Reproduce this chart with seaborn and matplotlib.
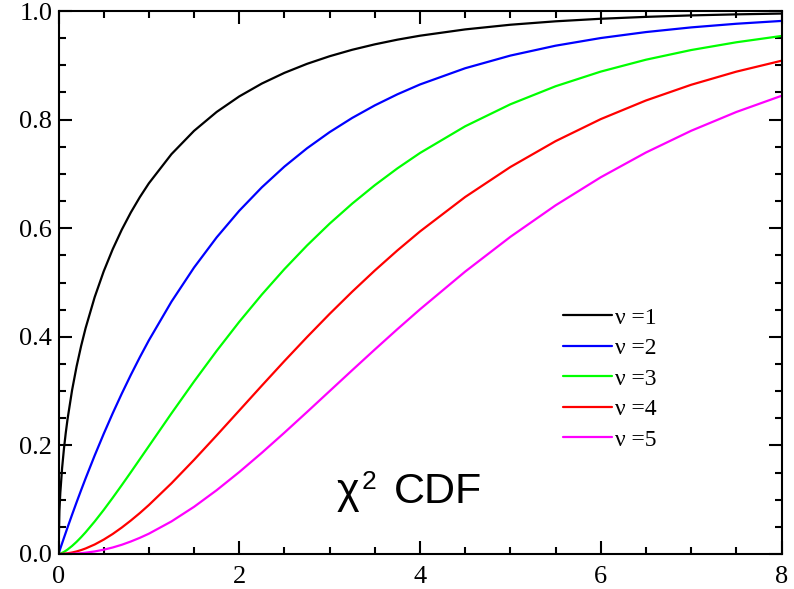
import numpy as np
import pandas as pd
import matplotlib
matplotlib.use("Agg")
import matplotlib.pyplot as plt
import seaborn as sns
from matplotlib.ticker import MultipleLocator

# ---- data (chi-square CDF curves) ----
x_vals = [0, 0.01, 0.02, 0.04, 0.06, 0.08, 0.1, 0.15, 0.2, 0.25, 0.3, 0.4, 0.5,
          0.6, 0.7, 0.8, 0.9, 1.0, 1.25, 1.5, 1.75, 2.0, 2.25, 2.5, 2.75, 3.0,
          3.25, 3.5, 3.75, 4.0, 4.5, 5.0, 5.5, 6.0, 6.5, 7.0, 7.5, 8.0]
cdf_nu1 = [0.0, 0.0797, 0.1125, 0.1585, 0.1935, 0.2227, 0.2482, 0.3015, 0.3453,
           0.3829, 0.4161, 0.4729, 0.5205, 0.5614, 0.5972, 0.6289, 0.6572, 0.6827,
           0.7364, 0.7793, 0.8141, 0.8427, 0.8664, 0.8861, 0.9027, 0.9167, 0.9286,
           0.9386, 0.9472, 0.9545, 0.9661, 0.9747, 0.9810, 0.9857, 0.9892, 0.9919,
           0.9938, 0.9953]
cdf_nu2 = [0.0, 0.0050, 0.0100, 0.0198, 0.0296, 0.0392, 0.0488, 0.0723, 0.0952,
           0.1175, 0.1393, 0.1813, 0.2212, 0.2592, 0.2953, 0.3297, 0.3624, 0.3935,
           0.4647, 0.5276, 0.5831, 0.6321, 0.6753, 0.7135, 0.7472, 0.7769, 0.8031,
           0.8262, 0.8466, 0.8647, 0.8946, 0.9179, 0.9361, 0.9502, 0.9612, 0.9698,
           0.9765, 0.9817]
cdf_nu3 = [0.0, 0.0003, 0.0008, 0.0021, 0.0038, 0.0059, 0.0082, 0.0148, 0.0224,
           0.0309, 0.0400, 0.0598, 0.0811, 0.1036, 0.1268, 0.1505, 0.1746, 0.1987,
           0.2590, 0.3177, 0.3741, 0.4276, 0.4778, 0.5247, 0.5682, 0.6084, 0.6453,
           0.6792, 0.7102, 0.7385, 0.7877, 0.8282, 0.8614, 0.8884, 0.9103, 0.9281,
           0.9424, 0.9540]
cdf_nu4 = [0.0, 0.0000, 0.0001, 0.0002, 0.0004, 0.0008, 0.0012, 0.0027, 0.0047,
           0.0072, 0.0102, 0.0175, 0.0265, 0.0369, 0.0487, 0.0616, 0.0754, 0.0902,
           0.1302, 0.1734, 0.2184, 0.2642, 0.3101, 0.3554, 0.3995, 0.4422, 0.4831,
           0.5221, 0.5591, 0.5940, 0.6575, 0.7127, 0.7603, 0.8009, 0.8352, 0.8641,
           0.8883, 0.9084]
cdf_nu5 = [0.0, 0.0000, 0.0000, 0.0000, 0.0000, 0.0001, 0.0002, 0.0004, 0.0009,
           0.0015, 0.0024, 0.0047, 0.0079, 0.0120, 0.0170, 0.0230, 0.0298, 0.0374,
           0.0600, 0.0869, 0.1175, 0.1509, 0.1864, 0.2235, 0.2615, 0.3000, 0.3385,
           0.3766, 0.4141, 0.4506, 0.5201, 0.5841, 0.6421, 0.6938, 0.7394, 0.7794,
           0.8140, 0.8438]
nu_values = [1, 2, 3, 4, 5]
line_colors = ["#000000", "#0000ff", "#00ff00", "#ff0000", "#ff00ff"]
x_ticks = [0, 2, 4, 6, 8]
x_tick_labels = ["0", "2", "4", "6", "8"]
y_ticks = [0.0, 0.2, 0.4, 0.6, 0.8, 1.0]
y_tick_labels = ["0.0", "0.2", "0.4", "0.6", "0.8", "1.0"]
annot_symbol = "χ"
annot_power = "2"
annot_word = "CDF"

# ---- style ----
sns.set_style("ticks")
plt.rcParams["font.family"] = ["Liberation Serif", "DejaVu Serif"]
for key in ["text.color", "axes.labelcolor", "xtick.color", "ytick.color",
            "axes.edgecolor"]:
    plt.rcParams[key] = "black"

series = [cdf_nu1, cdf_nu2, cdf_nu3, cdf_nu4, cdf_nu5]
for s in series:
    assert len(s) == len(x_vals)
labels = [f"ν ={nu}" for nu in nu_values]
rows = []
for lab, ys in zip(labels, series):
    for x, y in zip(x_vals, ys):
        rows.append({"x": x, "cdf": y, "nu": lab})
df = pd.DataFrame(rows)

W, H = 794, 589
fig = plt.figure(figsize=(W / 100, H / 100), dpi=100)
ax = fig.add_axes([58.5 / W, 35 / H, 723 / W, 543 / H])

sns.lineplot(data=df, x="x", y="cdf", hue="nu", hue_order=labels,
             palette=line_colors, linewidth=1.6, sort=False, ax=ax)

ax.set_xlim(0, 8)
ax.set_ylim(0, 1)
ax.set_xlabel("")
ax.set_ylabel("")
ax.set_xticks(x_ticks)
ax.set_xticklabels(x_tick_labels)
ax.set_yticks(y_ticks)
ax.set_yticklabels(y_tick_labels)
ax.xaxis.set_minor_locator(MultipleLocator(0.5))
ax.yaxis.set_minor_locator(MultipleLocator(0.05))

for sp in ax.spines.values():
    sp.set_visible(True)
    sp.set_linewidth(1.5)
    sp.set_color("black")

ax.tick_params(which="both", direction="in", top=True, right=True,
               width=1.5, color="black", labelcolor="black")
ax.tick_params(which="major", length=9.5, labelsize=19)
ax.tick_params(which="minor", length=5)
ax.tick_params(axis="x", which="major", pad=8.5)
ax.tick_params(axis="y", which="major", pad=4.5)

sns.move_legend(ax, loc="upper left", bbox_to_anchor=(0.6975, 0.4545),
                frameon=False, fontsize=17, title="", handlelength=2.1,
                handletextpad=0.1, labelspacing=0.38, borderpad=0,
                borderaxespad=0, labelcolor="black")

# annotation "χ² CDF" placed in figure pixel coordinates
sans = ["Liberation Sans", "DejaVu Sans"]
fig.text(337 / W, 1 - 503 / H, annot_symbol, ha="left", va="baseline",
         fontsize=31, family=sans, color="black")
fig.text(362 / W, 1 - 489 / H, annot_power, ha="left", va="baseline",
         fontsize=19, family=sans, color="black")
fig.text(394 / W, 1 - 503 / H, annot_word, ha="left", va="baseline",
         fontsize=31, family=sans, color="black")

fig.savefig("out.png", dpi=100)
